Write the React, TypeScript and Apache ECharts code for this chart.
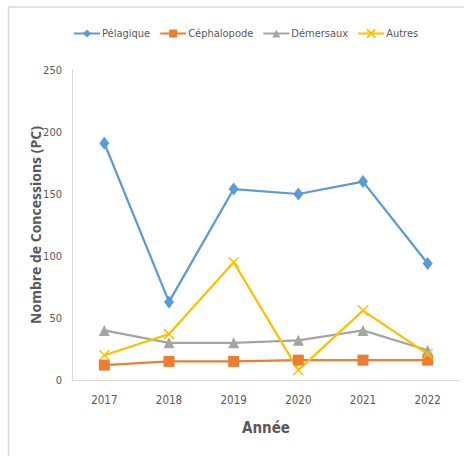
import React, { useEffect, useRef } from "react";
import * as echarts from "echarts";

const years = ["2017", "2018", "2019", "2020", "2021", "2022"];
const pelagique = [191, 63, 154, 150, 160, 94];
const cephalopode = [12, 15, 15, 16, 16, 16];
const demersaux = [40, 30, 30, 32, 40, 24];
const autres = [20, 37, 95, 8, 56, 21];
const yTicks = { min: 0, max: 250, interval: 50 };

const FONT = "'DejaVu Sans Condensed', 'Liberation Sans Narrow', 'Roboto', sans-serif";

export default function App() {
  const ref = useRef<HTMLDivElement>(null);
  useEffect(() => {
    if (!ref.current) return;
    const chart = echarts.init(ref.current, undefined, { renderer: "svg" });
    const mk = (name: string, data: number[], color: string, symbol: string, size: any, extra: any = {}) => ({
      name,
      type: "line",
      data,
      symbol,
      symbolSize: size,
      lineStyle: { color, width: 2.25 },
      itemStyle: { color, ...extra },
      emphasis: { disabled: true },
    });
    chart.setOption({
      animation: false,
      backgroundColor: "#ffffff",
      textStyle: { fontFamily: FONT },
      graphic: [
        { type: "line", shape: { x1: 8, y1: 7, x2: 464, y2: 7 }, style: { stroke: "#D9D9D9", lineWidth: 1.5 } },
        { type: "line", shape: { x1: 8.5, y1: 7, x2: 8.5, y2: 456 }, style: { stroke: "#D9D9D9", lineWidth: 1.5 } },
      ],
      legend: {
        top: 28,
        left: 73,
        width: 391,
        padding: 0,
        itemWidth: 26,
        itemHeight: 10,
        itemGap: 9,
        textStyle: { color: "#595959", fontSize: 11, fontFamily: FONT, padding: [0, 0, 0, -3] },
        data: ["Pélagique", "Céphalopode", "Démersaux", "Autres"],
      },
      grid: { left: 72, top: 70, width: 388, height: 310, containLabel: false },
      xAxis: {
        type: "category",
        data: years,
        boundaryGap: true,
        axisLine: { lineStyle: { color: "#D9D9D9", width: 1 } },
        axisTick: { show: false },
        axisLabel: { color: "#595959", fontSize: 11.5, margin: 14, fontFamily: FONT },
        name: "Année",
        nameLocation: "middle",
        nameGap: 40,
        nameMoveOverlap: false,
        nameTextStyle: { color: "#595959", fontSize: 15, fontWeight: "bold", fontFamily: FONT },
      },
      yAxis: {
        type: "value",
        min: yTicks.min,
        max: yTicks.max,
        interval: yTicks.interval,
        axisLine: { show: true, lineStyle: { color: "#D9D9D9", width: 1 } },
        axisTick: { show: false },
        splitLine: { show: false },
        axisLabel: { color: "#595959", fontSize: 11, margin: 10, fontFamily: FONT },
        name: "Nombre de Concessions (PC)",
        nameLocation: "middle",
        nameGap: 30,
        nameMoveOverlap: false,
        nameTextStyle: { color: "#595959", fontSize: 14, fontWeight: "bold", fontFamily: "'Open Sans', sans-serif" },
      },
      series: [
        mk("Pélagique", pelagique, "#5B9BD5", "diamond", [10, 13]),
        mk("Céphalopode", cephalopode, "#ED7D31", "rect", 11),
        mk("Démersaux", demersaux, "#A5A5A5", "triangle", 11),
        mk("Autres", autres, "#FFC000", "path://M0,0L10,10M10,0L0,10", 10, {
          borderColor: "#FFC000",
          borderWidth: 1.5,
        }),
      ],
    });
    return () => chart.dispose();
  }, []);
  return (
    <div
      ref={ref}
      style={{ position: "fixed", left: 0, top: 0, width: 464, height: 456 }}
    />
  );
}
